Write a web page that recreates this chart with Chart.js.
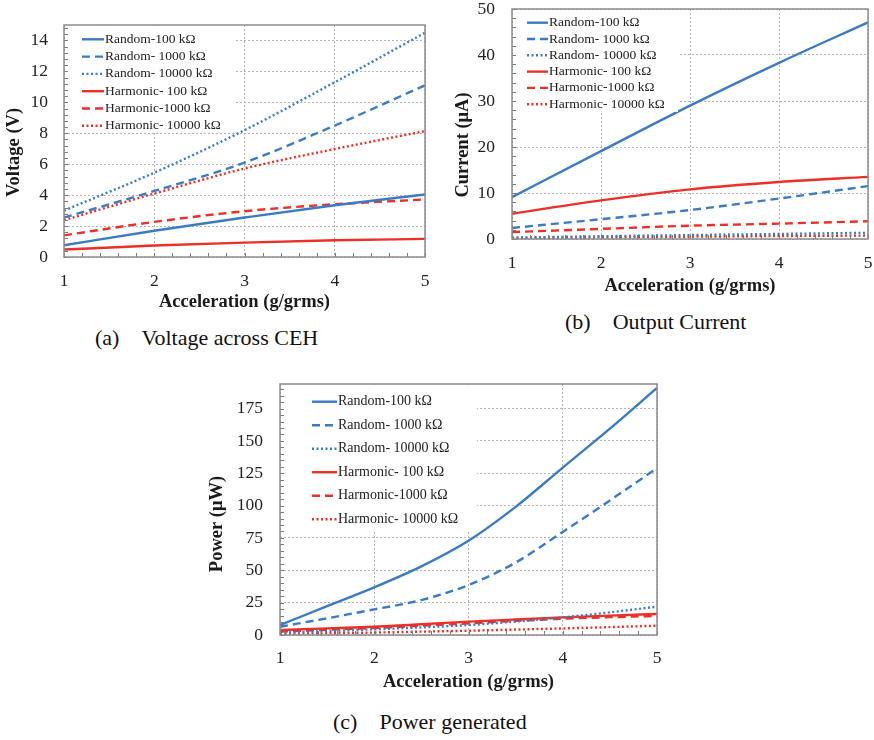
<!DOCTYPE html>
<html>
<head>
<meta charset="utf-8">
<script src="https://cdn.jsdelivr.net/npm/chart.js@4.4.0/dist/chart.umd.min.js"></script>
<style>
  body { margin: 0; background: #fff; width: 874px; height: 740px; position: relative; overflow: hidden; }
  canvas { position: absolute; }
  .caption { position: absolute; font-family: "Liberation Serif", "Times New Roman", serif; font-size: 22px; line-height: 26px; color: #111; white-space: nowrap; }
  .caption span { margin-left: 22px; }
</style>
</head>
<body>
<canvas id="voltageChart" width="440" height="320" style="left:0;top:0"></canvas>
<div class="caption" style="left:95px;top:325px">(a)<span>Voltage across CEH</span></div>
<canvas id="currentChart" width="434" height="305" style="left:440px;top:0"></canvas>
<div class="caption" style="left:565px;top:309px">(b)<span>Output Current</span></div>
<canvas id="powerChart" width="470" height="325" style="left:200px;top:374px"></canvas>
<div class="caption" style="left:333px;top:709px">(c)<span>Power generated</span></div>
<script>
// ## DATA ##

const accel = [1, 2, 3, 4, 5];
const accelFine = [1, 1.5, 2, 2.5, 3, 3.5, 4, 4.5, 5];
const accelTicks = [1, 2, 3, 4, 5];

const seriesLabels = [
  "Random-100 kΩ",
  "Random- 1000 kΩ",
  "Random- 10000 kΩ",
  "Harmonic- 100 kΩ",
  "Harmonic-1000 kΩ",
  "Harmonic- 10000 kΩ",
];

// (a) voltage, V
const voltRandom100 = [0.76, 1.7, 2.55, 3.35, 4.04];
const voltRandom1000 = [2.55, 4.27, 6.1, 8.5, 11.1];
const voltRandom10000 = [3.0, 5.45, 8.2, 11.3, 14.5];
const voltHarm100 = [0.48, 0.74, 0.93, 1.08, 1.17];
const voltHarm1000 = [1.4, 2.27, 2.96, 3.41, 3.72];
const voltHarm10000 = [2.38, 4.1, 5.72, 6.98, 8.14];
const voltTicks = [0, 2, 4, 6, 8, 10, 12, 14];

// (b) current, uA
const curRandom100 = [9.1, 19.1, 29, 38.3, 47.1];
const curRandom1000 = [2.4, 4.3, 6.3, 8.8, 11.5];
const curRandom10000 = [0.3, 0.6, 0.85, 1.1, 1.35];
const curHarm100 = [5.5, 8.4, 10.8, 12.4, 13.5];
const curHarm1000 = [1.5, 2.2, 2.9, 3.35, 3.85];
const curHarm10000 = [0.2, 0.35, 0.5, 0.65, 0.75];
const currentTicks = [0, 10, 20, 30, 40, 50];

// (c) power, uW
const powRandom100 = [7.7, 22.3, 36.8, 53, 72.8, 99, 129.4, 159.5, 191];
const powRandom1000 = [6.4, 12.9, 19.8, 27, 38.6, 56, 79.7, 104, 129];
const powRandom10000 = [1.8, 3, 4.4, 5.9, 7.7, 10.4, 13.6, 17.5, 21.9];
const powHarm100 = [3.9, 5.1, 6.4, 8.3, 10.3, 12, 13.6, 15, 16.2];
const powHarm1000 = [2.6, 4, 5.4, 7.2, 9, 10.9, 12.6, 13.8, 14.7];
const powHarm10000 = [0.8, 1.3, 1.9, 2.6, 3.3, 4.2, 5.1, 6.1, 7.2];
const powerTicks = [0, 25, 50, 75, 100, 125, 150, 175];

// ## STYLE ##

const BLUE = "#3a7cc3";
const RED = "#ee2f27";
const DASHES = [[], [8, 5], [2, 2.5]];
const serif = "'Liberation Serif', 'Times New Roman', serif";

function buildDatasets(xs, series) {
  return series.map((values, i) => ({
    label: seriesLabels[i],
    data: values.map((y, j) => ({ x: xs[j], y: y })),
    borderColor: i < 3 ? BLUE : RED,
    borderDash: DASHES[i % 3],
    borderWidth: 2.4,
    borderCapStyle: "butt",
    pointRadius: 0,
    fill: false,
    cubicInterpolationMode: "monotone",
  }));
}

// frame, inner legend, minor ticks and the y title, drawn on top of the plot
const framePlugin = {
  id: "frame",
  afterDatasetsDraw(chart, args, opts) {
    const { ctx, chartArea: area, scales } = chart;
    const xs = scales.x;
    const ys = scales.y;
    const lg = opts.legend;
    ctx.save();

    ctx.fillStyle = "#fff";
    ctx.fillRect(area.left + 1, area.top + 1, lg.boxWidth, lg.boxHeight);
    ctx.font = lg.fontSize + "px " + serif;
    ctx.textBaseline = "middle";
    chart.data.datasets.forEach((ds, i) => {
      const y = area.top + lg.top + i * lg.rowGap;
      const x0 = area.left + lg.left;
      ctx.strokeStyle = ds.borderColor;
      ctx.lineWidth = ds.borderWidth;
      ctx.setLineDash(ds.borderDash);
      ctx.beginPath();
      ctx.moveTo(x0, y);
      ctx.lineTo(x0 + lg.sample, y);
      ctx.stroke();
      ctx.setLineDash([]);
      ctx.fillStyle = "#222";
      ctx.fillText(ds.label, x0 + lg.sample + 1, y);
    });

    ctx.strokeStyle = "#7a7a7a";
    ctx.lineWidth = 1;
    ctx.beginPath();
    for (let k = 0; xs.min + k * opts.xMinor <= xs.max + 1e-9; k++) {
      const px = Math.round(xs.getPixelForValue(xs.min + k * opts.xMinor)) + 0.5;
      ctx.moveTo(px, area.bottom);
      ctx.lineTo(px, area.bottom - 4);
    }
    for (let k = 0; ys.min + k * opts.yMinor <= ys.max + 1e-9; k++) {
      const py = Math.round(ys.getPixelForValue(ys.min + k * opts.yMinor)) + 0.5;
      ctx.moveTo(area.left, py);
      ctx.lineTo(area.left + 4, py);
    }
    ctx.stroke();

    ctx.strokeStyle = "#8c8c8c";
    ctx.lineWidth = 1.5;
    ctx.strokeRect(area.left, area.top, area.width, area.height);

    // y axis title sits a little below the plot centre in the original
    const yt = opts.yTitle;
    ctx.translate(yt.x, (area.top + area.bottom) / 2 + yt.dy);
    ctx.rotate(-Math.PI / 2);
    ctx.font = "bold 18.5px " + serif;
    ctx.fillStyle = "#1a1a1a";
    ctx.textAlign = "center";
    ctx.textBaseline = "middle";
    ctx.fillText(yt.text, 0, 0);
    ctx.restore();
  },
};

function makeChart(id, xs, series, yTicks, yMax, yTitle, lay) {
  const ctx = document.getElementById(id).getContext("2d");
  return new Chart(ctx, {
    type: "line",
    data: { datasets: buildDatasets(xs, series) },
    plugins: [framePlugin],
    options: {
      responsive: false,
      animation: false,
      devicePixelRatio: 1,
      layout: { padding: { top: lay.top, right: lay.right, left: 0, bottom: 0 } },
      plugins: {
        legend: { display: false },
        tooltip: { enabled: false },
        frame: {
          xMinor: 0.2,
          yMinor: lay.yMinor,
          legend: lay.legend,
          yTitle: { text: yTitle, x: lay.yTitleX, dy: lay.yTitleDy },
        },
      },
      scales: {
        x: {
          type: "linear",
          min: 1,
          max: 5,
          afterBuildTicks: (axis) => {
            axis.ticks = accelTicks.map((v) => ({ value: v }));
          },
          afterFit: (axis) => {
            axis.height = lay.xAxisHeight;
            axis.paddingLeft = 0;
            axis.paddingRight = 0;
          },
          grid: { color: "#b4b4b4", lineWidth: 1, drawTicks: false },
          border: { display: false, dash: [2, 2] },
          ticks: {
            padding: lay.xTickPad,
            maxRotation: 0,
            color: "#222",
            font: { family: serif, size: 17.5 },
          },
          title: {
            display: true,
            text: "Acceleration (g/grms)",
            color: "#1a1a1a",
            font: { family: serif, size: 18.5, weight: "bold" },
            padding: { top: 0, bottom: lay.xTitlePad },
          },
        },
        y: {
          type: "linear",
          min: 0,
          max: yMax,
          afterBuildTicks: (axis) => {
            axis.ticks = yTicks.map((v) => ({ value: v }));
          },
          afterFit: (axis) => {
            axis.width = lay.yAxisWidth;
            axis.paddingTop = 0;
            axis.paddingBottom = 0;
          },
          grid: { color: "#b4b4b4", lineWidth: 1, drawTicks: false },
          border: { display: false, dash: [2, 2] },
          ticks: {
            padding: lay.yTickPad,
            color: "#222",
            font: { family: serif, size: 17.5 },
          },
          title: { display: false },
        },
      },
    },
  });
}

// ## CHARTS ##

makeChart(
  "voltageChart",
  accel,
  [voltRandom100, voltRandom1000, voltRandom10000, voltHarm100, voltHarm1000, voltHarm10000],
  voltTicks,
  15,
  "Voltage (V)",
  {
    top: 25, right: 15, yAxisWidth: 64, xAxisHeight: 63,
    xTickPad: 14, xTitlePad: 7, yTickPad: 16, yTitleX: 14, yTitleDy: 11.5, yMinor: 0.4,
    legend: { left: 18, sample: 22, top: 14.3, rowGap: 17.3, fontSize: 13.5, boxWidth: 170, boxHeight: 107 },
  }
);

makeChart(
  "currentChart",
  accel,
  [curRandom100, curRandom1000, curRandom10000, curHarm100, curHarm1000, curHarm10000],
  currentTicks,
  50,
  "Current (μA)",
  {
    top: 9, right: 6, yAxisWidth: 72, xAxisHeight: 66,
    xTickPad: 14, xTitlePad: 8, yTickPad: 17, yTitleX: 23, yTitleDy: 21, yMinor: 2,
    legend: { left: 15, sample: 21, top: 13.7, rowGap: 16.3, fontSize: 13.5, boxWidth: 165, boxHeight: 102 },
  }
);

makeChart(
  "powerChart",
  accelFine,
  [powRandom100, powRandom1000, powRandom10000, powHarm100, powHarm1000, powHarm10000],
  powerTicks,
  194,
  "Power (μW)",
  {
    top: 10, right: 13, yAxisWidth: 80, xAxisHeight: 64,
    xTickPad: 13, xTitlePad: 5.5, yTickPad: 17, yTitleX: 17.5, yTitleDy: 14.5, yMinor: 5,
    legend: { left: 32, sample: 25, top: 17.7, rowGap: 23.5, fontSize: 14, boxWidth: 196, boxHeight: 145 },
  }
);
</script>
</body>
</html>
